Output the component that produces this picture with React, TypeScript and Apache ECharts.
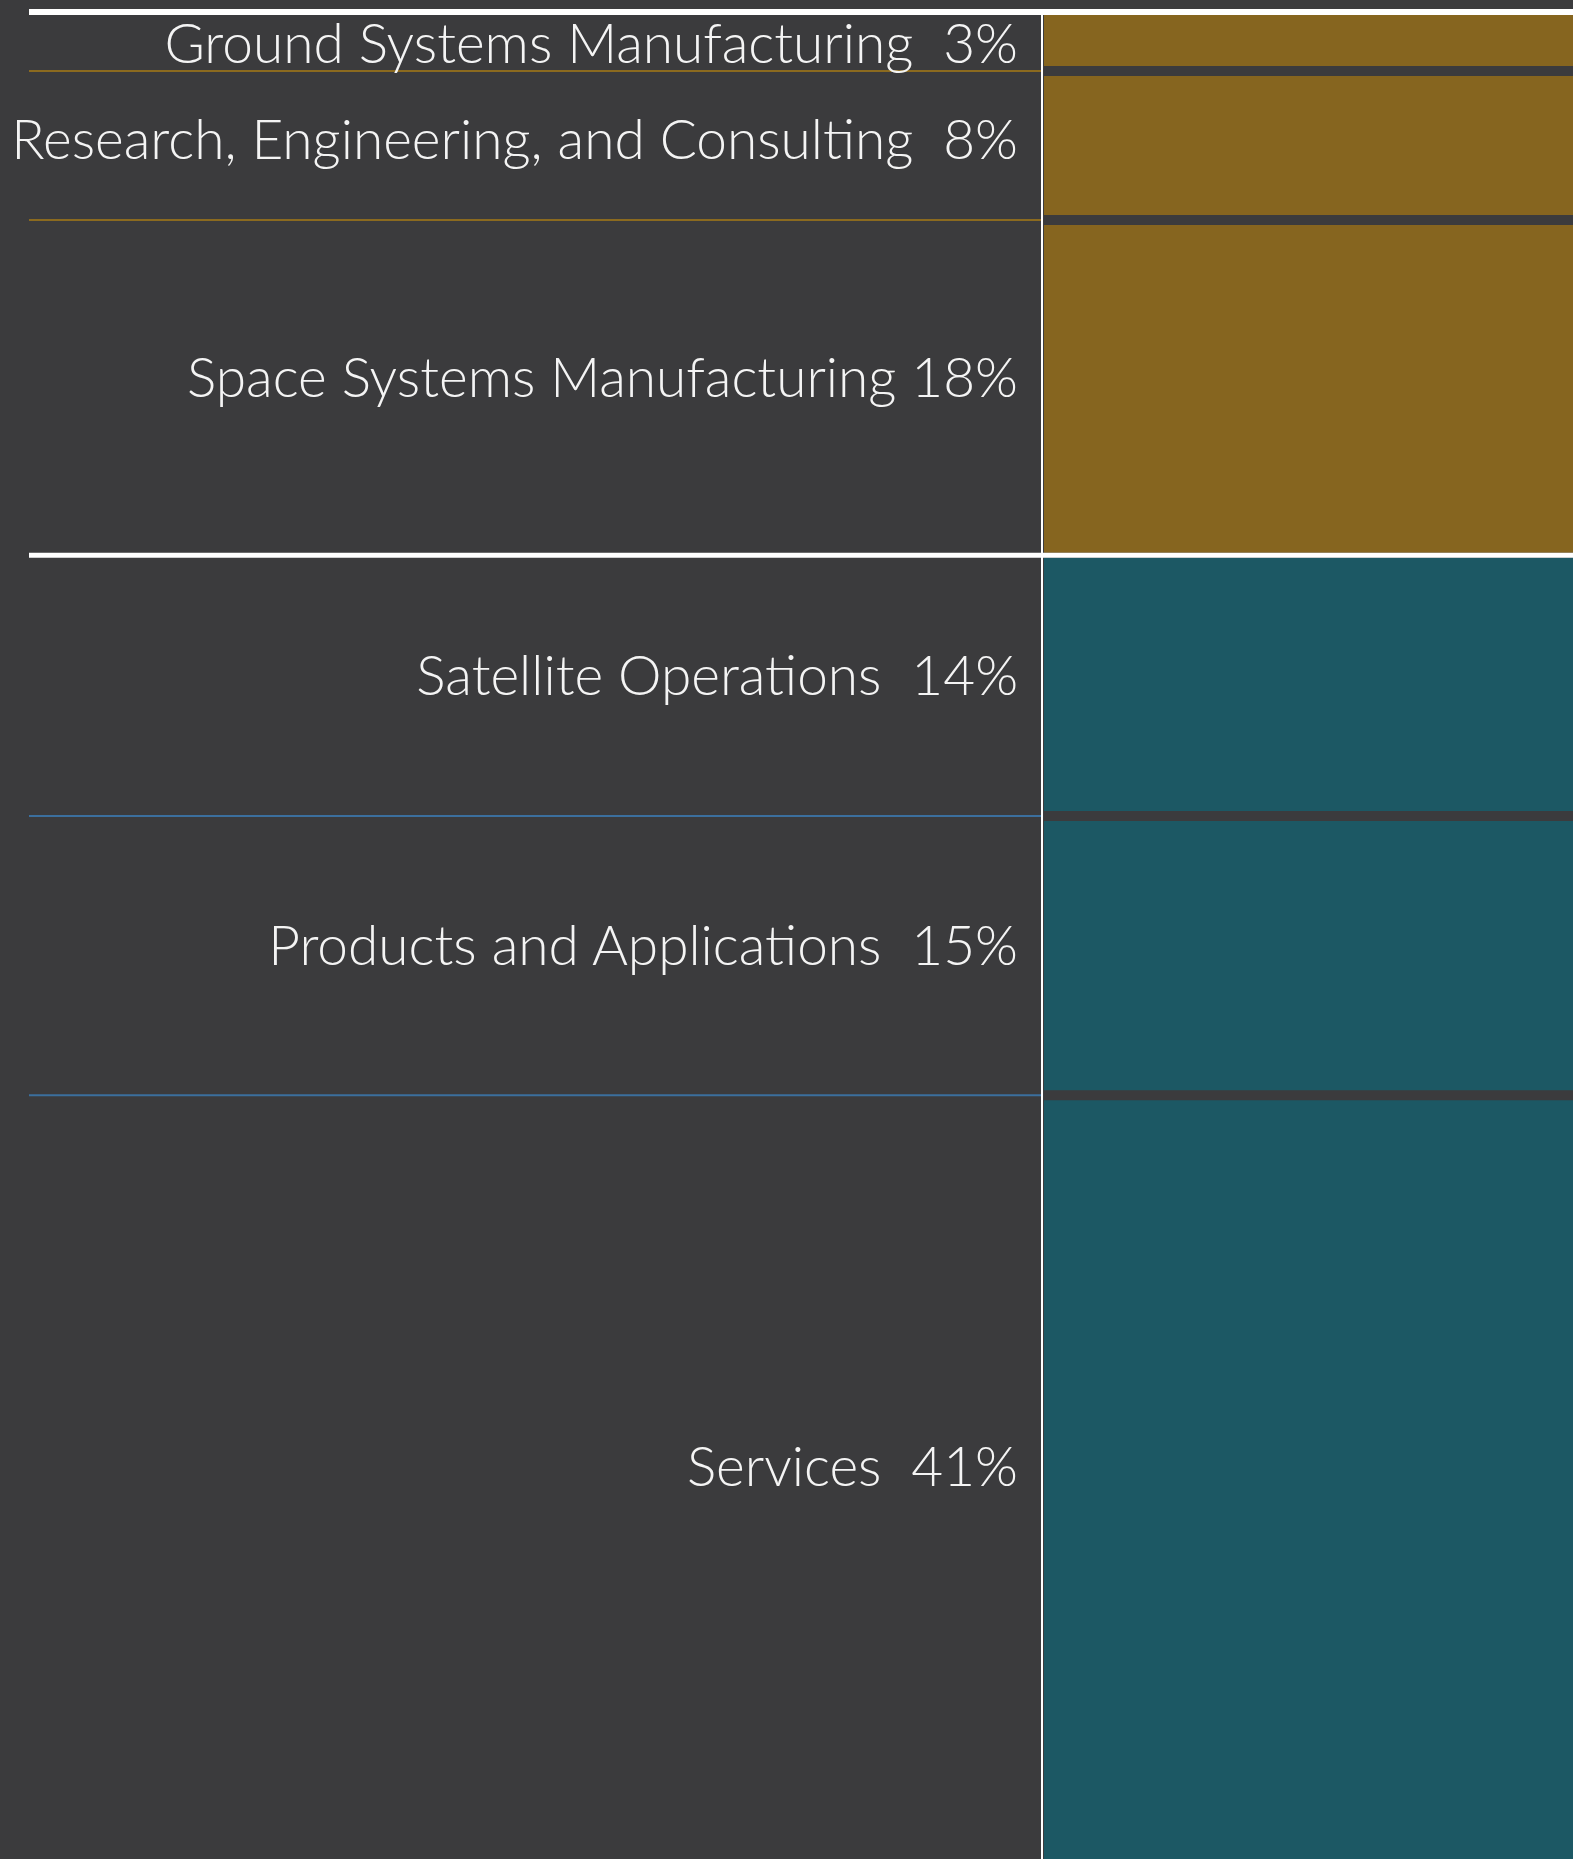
import React, { useEffect, useRef } from "react";
import * as echarts from "echarts";

const categories = [
  "Ground Systems Manufacturing",
  "Research, Engineering, and Consulting",
  "Space Systems Manufacturing",
  "Satellite Operations",
  "Products and Applications",
  "Services",
];
const shares = [3, 8, 18, 14, 15, 41];
const groups = [0, 0, 0, 1, 1, 1];
const spacers = ["  ", "  ", " ", "  ", "  ", "  "];

const BG = "#3b3b3d";
const FILL = ["#86651f", "#1c5864"];
const RULE = ["#8b6a1f", "#3b6f9e"];

export default function App() {
  const ref = useRef<HTMLDivElement>(null);
  useEffect(() => {
    document.body.style.margin = "0";
    const chart = echarts.init(ref.current!, null, { renderer: "svg" });
    const starts: number[] = [];
    const ends: number[] = [];
    let acc = 0;
    shares.forEach((v) => {
      starts.push(acc);
      acc += v;
      ends.push(acc);
    });
    const total = acc;
    const n = shares.length;

    // divider kinds: 0 top white, 1 group white, 2 internal coloured rule, 3 vertical
    const dividerData: number[][] = [[0, 0, 0], [0, 3, 0]];
    for (let i = 1; i < n; i++) {
      if (groups[i] !== groups[i - 1]) dividerData.push([starts[i], 1, groups[i]]);
      else dividerData.push([starts[i], 2, groups[i]]);
    }

    chart.setOption({
      animation: false,
      backgroundColor: BG,
      grid: [
        { left: 29, top: 15, width: 1013, bottom: 0 },
        { left: 1044, top: 15, right: 0, bottom: 0 },
      ],
      xAxis: [
        { type: "value", gridIndex: 0, min: 0, max: 1, show: false },
        { type: "category", gridIndex: 1, data: ["share"], show: false },
      ],
      yAxis: [
        { type: "value", gridIndex: 0, min: 0, max: total, inverse: true, show: false },
        { type: "value", gridIndex: 1, min: 0, max: total, inverse: true, show: false },
      ],
      series: [
        {
          type: "custom",
          xAxisIndex: 1,
          yAxisIndex: 1,
          data: shares.map((_, i) => [0, starts[i], ends[i], i]),
          encode: { x: 0, y: [1, 2] },
          renderItem: (params: any, api: any) => {
            const cs = params.coordSys;
            const i = api.value(3);
            const yA = api.coord([0, api.value(1)])[1];
            const yB = api.coord([0, api.value(2)])[1];
            const gTop = i === 0 ? 0 : groups[i] !== groups[i - 1] ? 2.5 : 5;
            const gBot = i === n - 1 ? 0 : groups[i] !== groups[i + 1] ? 2.5 : 5;
            return {
              type: "rect",
              shape: { x: cs.x, y: yA + gTop, width: cs.width, height: yB - yA - gTop - gBot },
              style: { fill: FILL[groups[i]] },
            };
          },
        },
        {
          type: "custom",
          xAxisIndex: 0,
          yAxisIndex: 0,
          data: dividerData,
          encode: { y: 0 },
          renderItem: (params: any, api: any) => {
            const cs = params.coordSys;
            const v = api.value(0);
            const kind = api.value(1);
            const g = api.value(2);
            const y = api.coord([0, v])[1];
            const W = api.getWidth();
            if (kind === 0) {
              return {
                type: "line",
                shape: { x1: cs.x, y1: y - 3, x2: W, y2: y - 3 },
                style: { stroke: "#ffffff", lineWidth: 6 },
              };
            }
            if (kind === 1) {
              return {
                type: "line",
                shape: { x1: cs.x, y1: y, x2: W, y2: y },
                style: { stroke: "#ffffff", lineWidth: 5 },
              };
            }
            if (kind === 3) {
              const yEnd = api.coord([0, total])[1];
              return {
                type: "line",
                shape: { x1: cs.x + cs.width, y1: y, x2: cs.x + cs.width, y2: yEnd },
                style: { stroke: "#ffffff", lineWidth: 2 },
              };
            }
            return {
              type: "line",
              shape: { x1: cs.x, y1: y, x2: cs.x + cs.width - 1, y2: y },
              style: { stroke: RULE[g], lineWidth: 2 },
            };
          },
        },
        {
          type: "custom",
          xAxisIndex: 0,
          yAxisIndex: 0,
          data: shares.map((v, i) => [(starts[i] + ends[i]) / 2, i, starts[i], ends[i]]),
          encode: { y: 0 },
          renderItem: (params: any, api: any) => {
            const cs = params.coordSys;
            const i = api.value(1);
            const y = api.coord([0, api.value(0)])[1];
            const h = api.coord([0, api.value(3)])[1] - api.coord([0, api.value(2)])[1];
            const dy = Math.max(-12, 2 - 0.06 * h);
            return {
              type: "text",
              x: cs.x + cs.width - 24,
              y: y + dy,
              style: {
                text: categories[i] + spacers[i] + shares[i] + "%",
                fill: "#f4f4f4",
                fontFamily: "Lato",
                fontWeight: 300,
                fontSize: 55,
                align: "right",
                verticalAlign: "middle",
              },
            };
          },
        },
      ],
    });
    return () => chart.dispose();
  }, []);
  return <div ref={ref} style={{ width: 1573, height: 1859 }} />;
}
